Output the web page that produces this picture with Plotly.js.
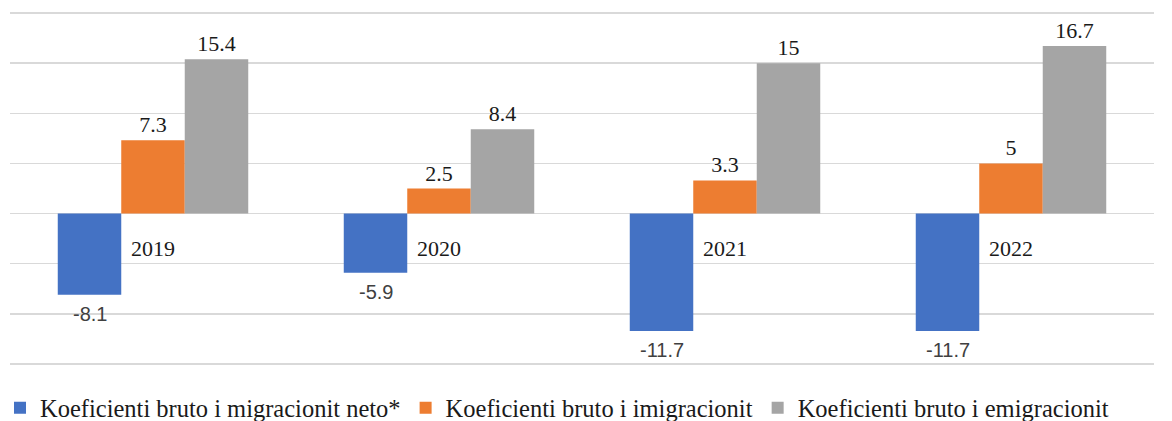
<!DOCTYPE html>
<html><head><meta charset="utf-8">
<script src="https://cdn.plot.ly/plotly-3.0.1.min.js"></script>
<style>html,body{margin:0;padding:0;background:#fff;}#chart{width:1172px;height:421px;}</style>
</head><body><div id="chart"></div>
<script>
const years = ['2019', '2020', '2021', '2022'];
const netMigration = [-8.1, -5.9, -11.7, -11.7];
const immigration = [7.3, 2.5, 3.3, 5];
const emigration = [15.4, 8.4, 15, 16.7];
const seriesNames = ['Koeficienti bruto i migracionit neto*', 'Koeficienti bruto i imigracionit', 'Koeficienti bruto i emigracionit'];

const serif = 'Liberation Serif';
const sans = 'Liberation Sans';

function mk(vals, name, color, withText) {
  const t = {
    type: 'bar', x: years, y: vals, name: name,
    marker: {color: color}, hoverinfo: 'none', cliponaxis: false
  };
  if (withText) {
    t.text = vals.map(v => String(v));
    t.textposition = 'outside';
    t.textfont = {family: serif, size: 22, color: '#1a1a1a'};
  }
  return t;
}
const data = [
  mk(netMigration, seriesNames[0], '#4472C4', false),
  mk(immigration, seriesNames[1], '#ED7D31', true),
  mk(emigration, seriesNames[2], '#A5A5A5', true)
];

const yearLabels = years.map(y => ({
  x: y, y: 0, xref: 'x', yref: 'y', text: y, showarrow: false,
  yanchor: 'top', yshift: -20, font: {family: serif, size: 22, color: '#1a1a1a'}
}));
const negLabels = years.map((y, i) => ({
  x: y, y: netMigration[i], xref: 'x', yref: 'y', text: String(netMigration[i]), showarrow: false,
  xshift: -63.5, yanchor: 'top', yshift: -6, font: {family: sans, size: 20, color: '#404040'}
}));

const layout = {
  width: 1172, height: 421,
  margin: {l: 10, r: 18, t: 8, b: 52, autoexpand: false},
  paper_bgcolor: '#fff', plot_bgcolor: '#fff',
  font: {family: serif},
  barmode: 'group', bargap: 0.334, bargroupgap: 0,
  xaxis: {showticklabels: false, showgrid: false, zeroline: false, showline: false, ticks: '', automargin: false},
  yaxis: {range: [-15.5, 20.5], dtick: 5, tick0: 0, showticklabels: false, showgrid: true, automargin: false,
          gridcolor: '#D9D9D9', gridwidth: 1.5, zeroline: true, zerolinecolor: '#D9D9D9', zerolinewidth: 1.5, ticks: ''},
  showlegend: true,
  legend: {orientation: 'h', xref: 'container', x: 0, xanchor: 'left', yref: 'container', y: 0.031, yanchor: 'middle',
           bgcolor: 'rgba(0,0,0,0)', font: {family: serif, size: 24.5, color: '#1a1a1a'}, itemwidth: 30, tracegroupgap: 0},
  annotations: yearLabels.concat(negLabels)
};
Plotly.newPlot('chart', data, layout, {staticPlot: true, displayModeBar: false});
</script></body></html>
